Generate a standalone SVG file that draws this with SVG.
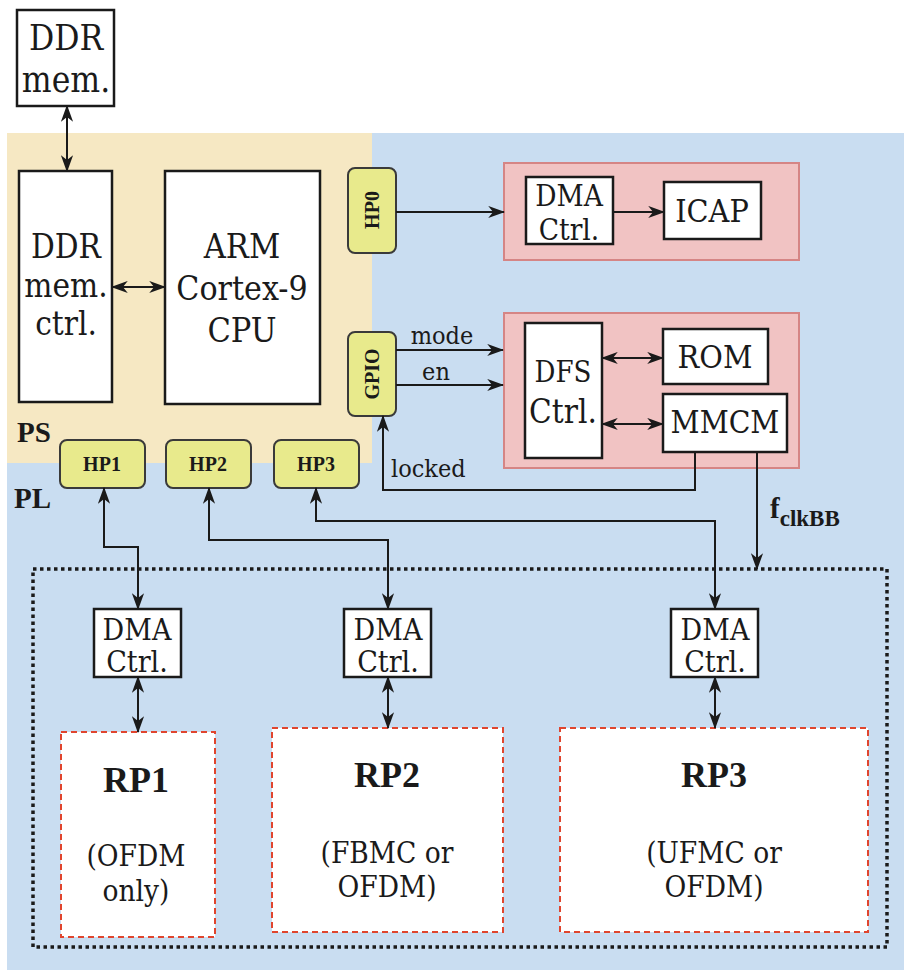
<svg xmlns="http://www.w3.org/2000/svg" width="904" height="970" viewBox="0 0 904 970">
<defs>
<marker id="ah" viewBox="0 0 14 10" refX="13" refY="5" markerWidth="17" markerHeight="13" markerUnits="userSpaceOnUse" orient="auto-start-reverse">
<path d="M0,0 L14,5 L0,10 L4,5 z" fill="#1a1a1a"/>
</marker>
<style>
.t{font-family:"DejaVu Serif Condensed","DejaVu Serif",serif;font-stretch:condensed;fill:#1a1a1a;text-anchor:middle}
.b{font-family:"Liberation Serif","DejaVu Serif",serif;font-stretch:normal;font-weight:bold}
.box{fill:#fff;stroke:#1a1a1a;stroke-width:2.5}
.hp{fill:#e8ea8c;stroke:#3a3a3a;stroke-width:2}
.pink{fill:#f1c3c3;stroke:#d58585;stroke-width:2}
.rp{fill:#fff;stroke:#e0452e;stroke-width:2;stroke-dasharray:6 4}
.ln{fill:none;stroke:#1a1a1a;stroke-width:2}
.two{marker-start:url(#ah);marker-end:url(#ah)}
.one{marker-end:url(#ah)}
</style>
</defs>
<rect x="7" y="133" width="897" height="837" fill="#c9ddf1"/>
<rect x="7" y="133" width="365" height="330" fill="#f6e8c3"/>
<text class="t b" x="17" y="442" font-size="29" style="text-anchor:start">PS</text>
<text class="t b" x="14" y="508" font-size="29" style="text-anchor:start">PL</text>
<rect x="33" y="569" width="854" height="378" fill="none" stroke="#1a1a1a" stroke-width="3.5" stroke-dasharray="3.5 3.5"/>

<g id="ddr-mem"><rect class="box" x="17" y="10" width="97" height="96"/><text class="t" x="66" y="50" font-size="35">DDR</text><text class="t" x="66" y="92" font-size="35">mem.</text></g>
<g id="ddr-ctrl"><rect class="box" x="19" y="171" width="93" height="231"/><text class="t" x="66" y="258" font-size="33">DDR</text><text class="t" x="66" y="297" font-size="33">mem.</text><text class="t" x="66" y="335" font-size="33">ctrl.</text></g>
<g id="arm"><rect class="box" x="165" y="171" width="155" height="233"/><text class="t" x="242" y="258" font-size="34">ARM</text><text class="t" x="242" y="300" font-size="33.5">Cortex-9</text><text class="t" x="242" y="342" font-size="34">CPU</text></g>
<g id="hp0"><rect class="hp" x="348" y="168" width="48" height="85" rx="7"/><text class="t b" font-size="20" transform="translate(379,210) rotate(-90)">HP0</text></g>
<g id="gpio"><rect class="hp" x="348" y="332" width="48" height="84" rx="7"/><text class="t b" font-size="20" transform="translate(379,374) rotate(-90)">GPIO</text></g>
<g id="hp1"><rect class="hp" x="60" y="440" width="85" height="48" rx="7"/><text class="t b" x="102" y="471" font-size="20">HP1</text></g>
<g id="hp2"><rect class="hp" x="166" y="440" width="85" height="48" rx="7"/><text class="t b" x="208" y="471" font-size="20">HP2</text></g>
<g id="hp3"><rect class="hp" x="274" y="440" width="85" height="48" rx="7"/><text class="t b" x="316" y="471" font-size="20">HP3</text></g>

<g id="pr1"><rect class="pink" x="504" y="163" width="295" height="97"/></g>
<g id="dma0"><rect class="box" x="526" y="177" width="87" height="67"/><text class="t" x="569" y="206" font-size="29.5">DMA</text><text class="t" x="569" y="240" font-size="29.5">Ctrl.</text></g>
<g id="icap"><rect class="box" x="664" y="182" width="97" height="57"/><text class="t" x="712" y="222" font-size="32">ICAP</text></g>

<g id="pr2"><rect class="pink" x="504" y="313" width="295" height="155"/></g>
<g id="dfs"><rect class="box" x="525" y="323" width="77" height="135"/><text class="t" x="563" y="382" font-size="29">DFS</text><text class="t" x="563" y="423" font-size="33">Ctrl.</text></g>
<g id="rom"><rect class="box" x="663" y="329" width="105" height="55"/><text class="t" x="715" y="368" font-size="32">ROM</text></g>
<g id="mmcm"><rect class="box" x="663" y="394" width="124" height="58"/><text class="t" x="725" y="433" font-size="31.5">MMCM</text></g>

<g id="dma1"><rect class="box" x="94" y="609" width="87" height="68"/><text class="t" x="137" y="640" font-size="30">DMA</text><text class="t" x="137" y="672" font-size="30">Ctrl.</text></g>
<g id="dma2"><rect class="box" x="344" y="609" width="87" height="68"/><text class="t" x="388" y="640" font-size="30">DMA</text><text class="t" x="388" y="672" font-size="30">Ctrl.</text></g>
<g id="dma3"><rect class="box" x="671" y="609" width="87" height="68"/><text class="t" x="715" y="640" font-size="30">DMA</text><text class="t" x="715" y="672" font-size="30">Ctrl.</text></g>

<g id="rp1"><rect class="rp" x="61" y="732" width="154" height="205"/><text class="t b" x="136" y="792" font-size="36">RP1</text><text class="t" x="136" y="866" font-size="29.5">(OFDM</text><text class="t" x="136" y="901" font-size="29.5">only)</text></g>
<g id="rp2"><rect class="rp" x="272" y="728" width="231" height="204"/><text class="t b" x="387" y="787" font-size="36">RP2</text><text class="t" x="387" y="863" font-size="29.5">(FBMC or</text><text class="t" x="387" y="897" font-size="29.5">OFDM)</text></g>
<g id="rp3"><rect class="rp" x="560" y="728" width="308" height="204"/><text class="t b" x="714" y="787" font-size="36">RP3</text><text class="t" x="714" y="863" font-size="29.5">(UFMC or</text><text class="t" x="714" y="897" font-size="29.5">OFDM)</text></g>

<g id="connectors">
<path class="ln two" d="M67,106 V171"/>
<path class="ln two" d="M112,287 H165"/>
<path class="ln one" d="M396,212 H504"/>
<path class="ln one" d="M613,212 H664"/>
<path class="ln one" d="M396,350 H503"/>
<path class="ln one" d="M396,385 H503"/>
<path class="ln two" d="M602,358 H663"/>
<path class="ln two" d="M602,424 H663"/>
<path class="ln one" d="M695,452 V490 H383 V416"/>
<path class="ln one" d="M757,452 V569"/>
<path class="ln two" d="M104,488 V547 H138 V609"/>
<path class="ln two" d="M209,488 V540 H388 V609"/>
<path class="ln two" d="M316,488 V521 H715 V609"/>
<path class="ln two" d="M138,677 V732"/>
<path class="ln two" d="M388,677 V728"/>
<path class="ln two" d="M715,677 V728"/>
<text class="t" x="442" y="344" font-size="25">mode</text>
<text class="t" x="436" y="380" font-size="25">en</text>
<text class="t" x="391" y="477" font-size="25" style="text-anchor:start">locked</text>
<text class="t b" x="770" y="518" font-size="29" style="text-anchor:start">f<tspan font-size="23" dy="8">clkBB</tspan></text>
</g>
</svg>
